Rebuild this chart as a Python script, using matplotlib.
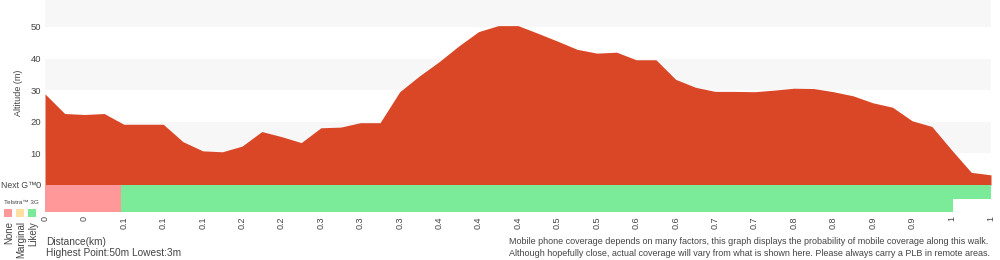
import matplotlib
matplotlib.use("Agg")
import matplotlib.pyplot as plt
import numpy as np

# ---- data ----
altitude_m = [28.8, 22.6, 22.3, 22.6, 19.2, 19.2, 19.2, 13.7, 10.8, 10.5,
              12.3, 16.9, 15.3, 13.4, 18.1, 18.3, 19.7, 19.7, 29.5, 34.5,
              39.0, 44.0, 48.5, 50.4, 50.4, 48.0, 45.5, 42.9, 41.7, 42.0,
              39.6, 39.6, 33.4, 30.9, 29.6, 29.6, 29.5, 30.0, 30.6, 30.5,
              29.5, 28.2, 26.0, 24.6, 20.3, 18.5, 11.1, 4.0, 3.2]
dist_tick_labels = ["0", "0", "0.1", "0.1", "0.1", "0.2", "0.2", "0.3", "0.3", "0.3",
                    "0.4", "0.4", "0.4", "0.5", "0.5", "0.6", "0.6", "0.7", "0.7",
                    "0.8", "0.8", "0.9", "0.9", "1", "1"]
alt_ticks = [0, 10, 20, 30, 40, 50]
nextg_edges = [0, 3.86, 48]
nextg_levels = ["None", "Likely"]
g3_edges = [0, 3.86, 46.06]
g3_levels = ["None", "Likely"]
legend_levels = ["None", "Marginal", "Likely"]

RED = "#DA4727"
BAND = "#F7F7F7"
TXT = "#444444"
level_colors = {"None": "#FF9999", "Marginal": "#FFE0A3", "Likely": "#7BEA99"}

plt.rcParams['font.family'] = ['Liberation Sans', 'DejaVu Sans']

W, H = 1000, 260
fig = plt.figure(figsize=(10, 2.6), dpi=100)

def fx(px):
    return px / W

def fy(py):
    return 1 - py / H

# altitude axes
ax = fig.add_axes([fx(45), fy(185), fx(991) - fx(45), fy(0) - fy(185)])
n = len(altitude_m)
x = np.arange(n)
ymax = 58.5
for lo in range(0, 60, 10):
    if (lo // 10) % 2 == 1:
        ax.axhspan(lo, lo + 10, color=BAND, lw=0, zorder=0)
ax.axhspan(50, ymax, color=BAND, lw=0, zorder=0)
ax.fill_between(x, 0, altitude_m, color=RED, lw=0, zorder=2)
ax.set_xlim(0, n - 1)
ax.set_ylim(0, ymax)
ax.set_yticks(alt_ticks)
ax.set_yticklabels([str(t) for t in alt_ticks], fontsize=6.8, color=TXT)
ax.tick_params(axis='y', length=0, pad=3)
ax.set_xticks([])
for s in ax.spines.values():
    s.set_visible(False)
ax.set_ylabel("Altitude (m)", fontsize=6.5, color=TXT, labelpad=5)

# coverage axes
cax = fig.add_axes([fx(45), fy(212), fx(991) - fx(45), fy(185) - fy(212)])
cax.set_xlim(0, n - 1)
cax.set_ylim(0, 2)
for edges, levels, row in [(nextg_edges, nextg_levels, 1), (g3_edges, g3_levels, 0)]:
    for i, lev in enumerate(levels):
        cax.barh(row + 0.5, edges[i + 1] - edges[i], left=edges[i], height=1.0,
                 color=level_colors[lev], lw=0)
tick_pos = np.arange(0, n, 2)
cax.set_xticks(tick_pos)
cax.set_xticklabels(dist_tick_labels, rotation=90, fontsize=6.5, color=TXT)
cax.tick_params(axis='x', length=0, pad=3)
cax.set_yticks([])
for s in cax.spines.values():
    s.set_visible(False)

# left legend
fig.text(fx(1), fy(186), "Next G™", fontsize=6.2, color=TXT, ha='left', va='center')
fig.text(fx(21), fy(203), "Telstra™ 3G", fontsize=4.5, color=TXT, ha='center', va='center')
for i, lev in enumerate(legend_levels):
    cx = 8 + 12 * i
    fig.patches.append(plt.Rectangle((fx(cx - 4), fy(217)), fx(8), fy(209) - fy(217),
                                     transform=fig.transFigure, color=level_colors[lev], lw=0))
    fig.text(fx(cx + 1), fy(221), lev, fontsize=7, color=TXT, rotation=90,
             ha='center', va='top')

# bottom texts
fig.text(fx(46), fy(242), "Distance(km)", fontsize=7.3, color=TXT, ha='left', va='center')
fig.text(fx(46), fy(253), "Highest Point:50m Lowest:3m", fontsize=7.3, color=TXT,
         ha='left', va='center')
fig.text(fx(509), fy(242),
         "Mobile phone coverage depends on many factors, this graph displays the probability of mobile coverage along this walk.",
         fontsize=6.5, color=TXT, ha='left', va='center')
fig.text(fx(509), fy(253),
         "Although hopefully close, actual coverage will vary from what is shown here. Please always carry a PLB in remote areas.",
         fontsize=6.5, color=TXT, ha='left', va='center')

fig.savefig("out.png", dpi=100, facecolor="white")
